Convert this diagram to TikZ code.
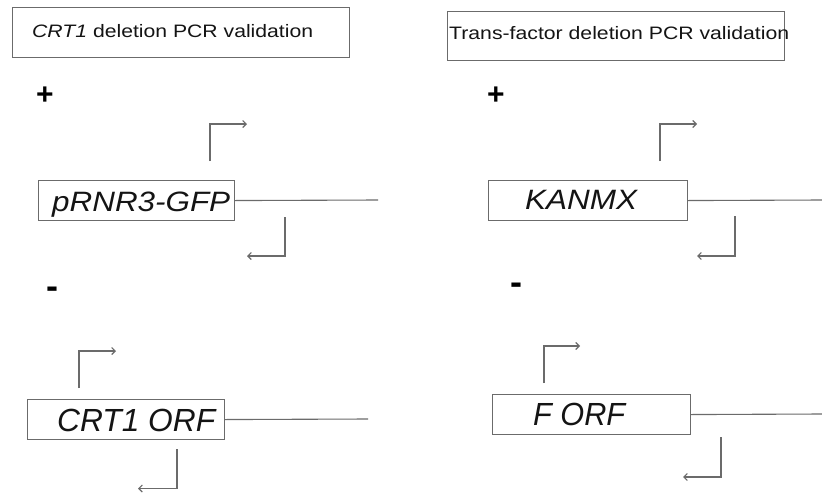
\documentclass[tikz,border=0pt]{standalone}
\usepackage{fontspec}
\setmainfont{Liberation Sans}
\usetikzlibrary{arrows.meta}
\newcommand\mystretch[2]{\resizebox{#1}{\height}{#2}}
\begin{document}
\begin{tikzpicture}[x=1pt,y=-1pt,
  lc/.style={draw=black!58, line width=1.1pt},
  gbox/.style={lc, rectangle, inner sep=0pt, anchor=north west},
  primer/.style={lc, -{Straight Barb[length=3.5pt,width=7pt]}},
  txt/.style={anchor=base west, inner sep=0pt, text=black!92},
  big/.style={txt, font=\fontsize{28}{28}\selectfont\itshape},
  sign/.style={inner sep=0pt, text=black, font=\fontsize{30}{30}\selectfont\bfseries},
]
\useasboundingbox (0,0) rectangle (822,493);
\fill[white] (0,0) rectangle (822,493);

% titles
\node[gbox, minimum width=337pt, minimum height=50pt] (t1) at (12,7) {};
\node[txt, font=\fontsize{18}{18}\selectfont] (t1txt) at (32,37.3) {\mystretch{281pt}{\textit{CRT1} deletion PCR validation}};
\node[gbox, minimum width=337pt, minimum height=49pt] (t2) at (447,11) {};
\node[txt, font=\fontsize{18}{18}\selectfont] (t2txt) at (449,39.3) {\mystretch{340pt}{Trans-factor deletion PCR validation}};

% signs
\node[sign] (plus1) at (45,95.5) {+};
\node[sign] (plus2) at (496,95.5) {+};
\node[sign, font=\fontsize{36}{36}\selectfont\bfseries] (minus1) at (52,292.5) {-};
\node[sign, font=\fontsize{36}{36}\selectfont\bfseries] (minus2) at (516.5,288.5) {-};

% boxes
\node[gbox, minimum width=196pt, minimum height=40pt] (b1) at (38,180) {};
\node[big] (b1txt) at (52,211.7) {\mystretch{178pt}{pRNR3-GFP}};
\node[gbox, minimum width=197pt, minimum height=40pt] (b2) at (27,399) {};
\node[big, font=\fontsize{32}{32}\selectfont\itshape] (b2txt) at (57,431.7) {\mystretch{158pt}{CRT1 ORF}};
\node[gbox, minimum width=199pt, minimum height=40pt] (b3) at (488,180) {};
\node[big] (b3txt) at (525,209) {\mystretch{112pt}{KANMX}};
\node[gbox, minimum width=198pt, minimum height=40pt] (b4) at (492,394) {};
\node[big, font=\fontsize{32}{32}\selectfont\itshape] (b4txt) at (533,425) {\mystretch{92pt}{F ORF}};

% lines to the right
\coordinate (e1) at (378,200);
\coordinate (e2) at (368,419);
\coordinate (e3) at (822,200);
\coordinate (e4) at (822,414);
\draw[lc] (b1.east) -- (e1);
\draw[lc] (b2.east) -- (e2);
\draw[lc] (b3.east) -- (e3);
\draw[lc] (b4.east) -- (e4);

% primers, top-left panel
\coordinate (f1s) at (210,161); \coordinate (f1c) at (210,124); \coordinate (f1e) at (247,124);
\draw[primer] (f1s) -- (f1c) -- (f1e);
\coordinate (r1s) at (285,217); \coordinate (r1c) at (285,256); \coordinate (r1e) at (247,256);
\draw[primer] (r1s) -- (r1c) -- (r1e);

% primers, bottom-left panel
\coordinate (f2s) at (79,388); \coordinate (f2c) at (79,351); \coordinate (f2e) at (116,351);
\draw[primer] (f2s) -- (f2c) -- (f2e);
\coordinate (r2s) at (177,449); \coordinate (r2c) at (177,488.5); \coordinate (r2e) at (138,488.5);
\draw[primer] (r2s) -- (r2c) -- (r2e);

% primers, top-right panel
\coordinate (f3s) at (660,161); \coordinate (f3c) at (660,124); \coordinate (f3e) at (697,124);
\draw[primer] (f3s) -- (f3c) -- (f3e);
\coordinate (r3s) at (735,216); \coordinate (r3c) at (735,256); \coordinate (r3e) at (697,256);
\draw[primer] (r3s) -- (r3c) -- (r3e);

% primers, bottom-right panel
\coordinate (f4s) at (544,383); \coordinate (f4c) at (544,346); \coordinate (f4e) at (580,346);
\draw[primer] (f4s) -- (f4c) -- (f4e);
\coordinate (r4s) at (721,437); \coordinate (r4c) at (721,477); \coordinate (r4e) at (683,477);
\draw[primer] (r4s) -- (r4c) -- (r4e);
\end{tikzpicture}
\end{document}
